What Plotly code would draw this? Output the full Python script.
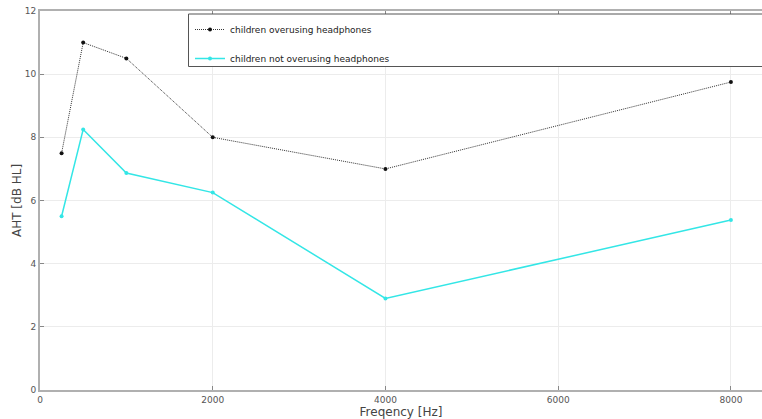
import plotly.graph_objects as go

freq = [250, 500, 1000, 2000, 4000, 8000]
overusing = [7.5, 11.0, 10.5, 8.0, 7.0, 9.75]
not_overusing = [5.5, 8.25, 6.87, 6.25, 2.9, 5.38]
x_ticks = [0, 2000, 4000, 6000, 8000]
y_ticks = [0, 2, 4, 6, 8, 10, 12]

fig = go.Figure()
fig.add_trace(go.Scatter(
    x=freq, y=overusing, mode="lines+markers",
    name="children overusing headphones", legendgroup="a",
    line=dict(color="#333333", width=1, dash="1px,1px"),
    marker=dict(color="#111111", size=4),
))
fig.add_trace(go.Scatter(
    x=freq, y=not_overusing, mode="lines+markers",
    name="children not overusing headphones", legendgroup="b",
    line=dict(color="#33e6e6", width=1.5),
    marker=dict(color="#33e6e6", size=4),
))

W, H = 762, 419
ml, mr, mt, mb = 40, 0, 11, 29
pw, ph = W - ml - mr, H - mt - mb

def px2x(p):
    return (p - ml) / pw

def px2y(p):
    return (H - mb - p) / ph

axis_common = dict(
    showline=True, linecolor="#b0b0b0", linewidth=2,
    ticks="inside", ticklen=4, tickcolor="#888888",
    showgrid=True, gridcolor="#ececec", gridwidth=1,
    zeroline=False, tickfont=dict(size=9, color="#555555", family="DejaVu Sans"),
)

fig.update_layout(
    width=W, height=H,
    margin=dict(l=ml, r=mr, t=mt, b=mb),
    plot_bgcolor="white", paper_bgcolor="white",
    xaxis=dict(range=[0, 8360], tickvals=x_ticks, mirror="ticks",
               title=dict(text="Freqency [Hz]", standoff=2,
                          font=dict(size=12, color="#444444", family="DejaVu Sans")),
               **axis_common),
    yaxis=dict(range=[0, 12], tickvals=y_ticks, mirror=False,
               title=dict(text="AHT [dB HL]", standoff=1,
                          font=dict(size=12, color="#444444", family="DejaVu Sans")),
               **axis_common),
    showlegend=True,
    legend=dict(
        x=px2x(190), y=px2y(15), xanchor="left", yanchor="top",
        bgcolor="rgba(0,0,0,0)", borderwidth=0,
        font=dict(size=9, color="#222222", family="DejaVu Sans"),
        tracegroupgap=10,
    ),
    shapes=[dict(
        type="rect", xref="paper", yref="paper",
        x0=px2x(188.5), x1=px2x(800), y0=px2y(66.5), y1=px2y(14),
        line=dict(color="#555555", width=1), fillcolor="white", layer="above",
    )],
)

fig.write_html("out.html")
